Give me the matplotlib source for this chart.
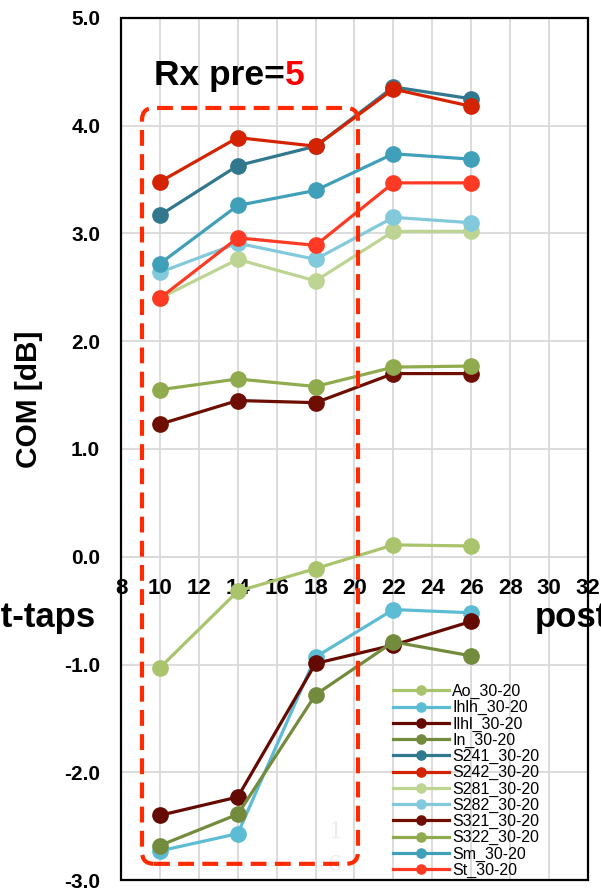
import matplotlib
matplotlib.use("Agg")
import matplotlib.pyplot as plt
from matplotlib.patches import FancyBboxPatch, Rectangle
from matplotlib.transforms import IdentityTransform

plt.rcParams['font.family'] = ['Liberation Sans', 'DejaVu Sans']

# post-tap counts on the x axis
taps = [10, 14, 18, 22, 26]

series_names = ["Ao_30-20", "Ihlh_30-20", "Ilhl_30-20", "In_30-20",
                "S241_30-20", "S242_30-20", "S281_30-20", "S282_30-20",
                "S321_30-20", "S322_30-20", "Sm_30-20", "St_30-20"]

ao = [-1.03, -0.32, -0.11, 0.11, 0.10]
ihlh = [-2.73, -2.57, -0.93, -0.49, -0.52]
ilhl = [-2.40, -2.23, -0.99, -0.82, -0.60]
in_ = [-2.68, -2.39, -1.28, -0.79, -0.92]
s241 = [3.17, 3.63, 3.81, 4.36, 4.25]
s242 = [3.48, 3.89, 3.81, 4.34, 4.18]
s281 = [2.40, 2.76, 2.56, 3.02, 3.02]
s282 = [2.64, 2.91, 2.76, 3.15, 3.10]
s321 = [1.23, 1.45, 1.43, 1.70, 1.70]
s322 = [1.55, 1.65, 1.58, 1.76, 1.77]
sm = [2.72, 3.26, 3.40, 3.74, 3.69]
st = [2.40, 2.96, 2.89, 3.47, 3.47]

series_values = [ao, ihlh, ilhl, in_, s241, s242, s281, s282, s321, s322, sm, st]
series_colors = ["#A9C46C", "#5CBCD3", "#640A00", "#738B3C",
                 "#31788F", "#D42300", "#BDD492", "#82C9DC",
                 "#6E0E00", "#8FAB4D", "#40A0B9", "#FF3A24"]

x_ticks = list(range(8, 33, 2))
y_ticks = [-3, -2, -1, 0, 1, 2, 3, 4, 5]

fig = plt.figure(figsize=(6.01, 8.91), dpi=100)
ax = fig.add_axes([121 / 601, 11 / 891, 467 / 601, 862 / 891])

for name, vals, col in zip(series_names, series_values, series_colors):
    ax.plot(taps, vals, color=col, lw=2.3, marker='o', ms=11,
            label=name, zorder=3)

ax.set_xlim(8, 32)
ax.set_ylim(-3, 5)
ax.set_xticks(x_ticks)
ax.set_yticks(y_ticks)
ax.set_yticklabels([f"{v:.1f}" for v in y_ticks])
ax.grid(True, color='#D9D9D9', lw=1.3, zorder=0)
ax.set_axisbelow(True)

# horizontal axis crosses at 0, labels sit under that line
ax.spines['bottom'].set_position(('data', 0))
ax.spines['bottom'].set_color('#D9D9D9')
ax.spines['bottom'].set_linewidth(1.3)
for s in ['top', 'left', 'right']:
    ax.spines[s].set_visible(False)
ax.add_patch(Rectangle((0, 0), 1, 1, transform=ax.transAxes, fill=False,
                       edgecolor='black', lw=1.6, zorder=5, clip_on=False))

ax.tick_params(axis='x', length=0, pad=15, labelsize=16)
ax.tick_params(axis='y', length=0, pad=15, labelsize=15)
for lab in ax.get_xticklabels() + ax.get_yticklabels():
    lab.set_fontweight('bold')

fig.text(29 / 601, 1 - 399 / 891, "COM [dB]", rotation=90, fontsize=21.5,
         fontweight='bold', ha='center', va='center')

# x-axis title, cut at both figure edges
fig.text(96 / 601, 1 - 627 / 891, "post-taps", fontsize=25,
         fontweight='bold', ha='right', va='baseline')
fig.text(535 / 601, 1 - 627 / 891, "post-taps", fontsize=25,
         fontweight='bold', ha='left', va='baseline')

# title with the red number
t1 = fig.text(154 / 601, 1 - 85 / 891, "Rx pre=", fontsize=25.5,
              fontweight='bold', ha='left', va='baseline')
fig.canvas.draw()
bb = t1.get_window_extent()
fig.text(bb.x1 / 601, 1 - 85 / 891, "5", fontsize=25.5,
         fontweight='bold', color='#FF0000', ha='left', va='baseline')

# faint page-number text
ax.text(19, -2.55, "1", fontsize=16, color='#EDEDED', family='serif',
        ha='center', va='center', zorder=1)
ax.text(19, -2.86, "6", fontsize=16, color='#EDEDED', family='serif',
        ha='center', va='center', zorder=1)

# rounded dashed box around the pre-22 taps
p0 = ax.transData.transform((9.08, -2.85))
p1 = ax.transData.transform((20.18, 4.165))
box = FancyBboxPatch((p0[0], p0[1]), p1[0] - p0[0], p1[1] - p0[1],
                     boxstyle="round,pad=0,rounding_size=12",
                     transform=IdentityTransform(), fill=False,
                     edgecolor='#FF2A00', lw=3.0, linestyle=(0, (3.8, 2)),
                     zorder=4)
fig.add_artist(box)

leg = ax.legend(loc='upper left', bbox_to_anchor=(393 / 601, 1 - 684 / 891),
                bbox_transform=fig.transFigure, frameon=False, fontsize=11.5,
                labelspacing=0.07, handlelength=3.5, handletextpad=0.2,
                borderpad=0, borderaxespad=0, markerscale=0.6)

fig.savefig("out.png", dpi=100)
plt.close(fig)
